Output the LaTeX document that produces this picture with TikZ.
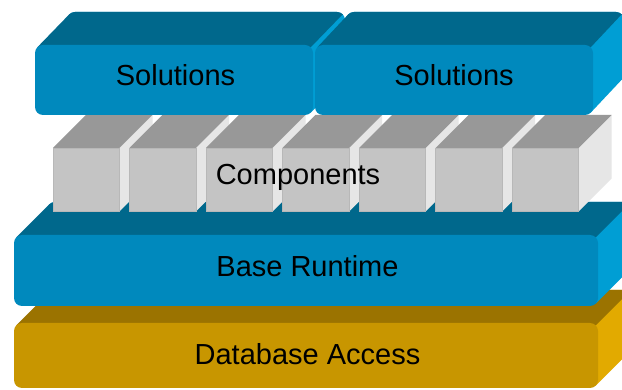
\documentclass[tikz,border=0pt]{standalone}
\usepackage{fontspec}
\setmainfont{Liberation Sans}

\definecolor{blueFront}{RGB}{0,137,189}
\definecolor{blueTop}{RGB}{0,104,140}
\definecolor{blueSide}{RGB}{0,158,212}
\definecolor{goldFront}{RGB}{200,150,0}
\definecolor{goldTop}{RGB}{155,115,0}
\definecolor{goldSide}{RGB}{226,170,0}
\definecolor{cubeFront}{RGB}{196,196,196}
\definecolor{cubeTop}{RGB}{152,152,152}
\definecolor{cubeSide}{RGB}{230,230,230}
\definecolor{cubeEdge}{RGB}{184,184,184}

\tikzset{
  lbl/.style={font=\fontsize{29}{34}\selectfont, text=black, inner sep=0pt, anchor=base},
}

% Extruded slab with rounded edges.
% #1,#2: top-left of the front face; #3,#4: bottom-right of the front face;
% #5,#6: depth offset (right, up); #7 front, #8 top, #9 side colour.
\newcommand\layerbox[9]{%
  \fill[#9, rounded corners=8pt] (#1+#5,#2-#6) rectangle (#3+#5,#4-#6);
  \fill[#9] (#3-2.3,#2+2.3) -- ++(#5,-#6) -- (#3-2.3+#5,#4-2.3-#6) -- (#3-2.3,#4-2.3) -- cycle;
  \begin{scope}
    \clip (#1,#2-#6-10) rectangle (#3-2.3+#5,#2+2.3-#6);
    \fill[#8, rounded corners=8pt] (#1+#5,#2-#6) rectangle (#3+#5,#4-#6);
  \end{scope}
  \fill[#8] (#1+2.3,#2+2.3) -- ++(#5,-#6) -- (#3-2.3+#5,#2+2.3-#6) -- (#3-2.3,#2+2.3) -- cycle;
  \fill[#7, rounded corners=8pt] (#1,#2) rectangle (#3,#4);
}

% Box of the component row: front face at #1, width 66.5
\newcommand\compcube[1]{%
  \fill[cubeSide] (#1+66.5,148) -- ++(33,-33) -- ++(0,63.5) -- (#1+66.5,211.5) -- cycle;
  \fill[cubeTop] (#1,148) -- ++(33,-33) -- ++(66.5,0) -- (#1+66.5,148) -- cycle;
  \filldraw[fill=cubeFront, draw=cubeEdge, line width=0.7pt] (#1,148) rectangle (#1+66.5,211.5);
}

\begin{document}
\begin{tikzpicture}[x=1pt, y=-1pt]
  \clip (0,0) rectangle (622,390);
  \fill[white] (0,0) rectangle (622,390);

  % bottom layer
  \layerbox{14}{323}{598}{388}{33}{33}{goldFront}{goldTop}{goldSide}
  % runtime layer
  \layerbox{14}{235}{598}{306}{33}{33}{blueFront}{blueTop}{blueSide}

  % row of components
  \foreach \cx in {53,129.5,206,282.5,359,435.5,512} {\compcube{\cx}}

  % solution blocks
  \layerbox{35}{45}{313}{115}{32}{33}{blueFront}{blueTop}{blueSide}
  \layerbox{315}{45}{593}{115}{31}{33}{blueFront}{blueTop}{blueSide}

  \node[lbl] (sol1) at (175.5,86) {Solutions};
  \node[lbl] (sol2) at (454,86) {Solutions};
  \node[lbl] (comp) at (298,185) {Components};
  \node[lbl] (base) at (307.5,277) {Base Runtime};
  \node[lbl] (db) at (307.5,365) {Database Access};
\end{tikzpicture}
\end{document}
